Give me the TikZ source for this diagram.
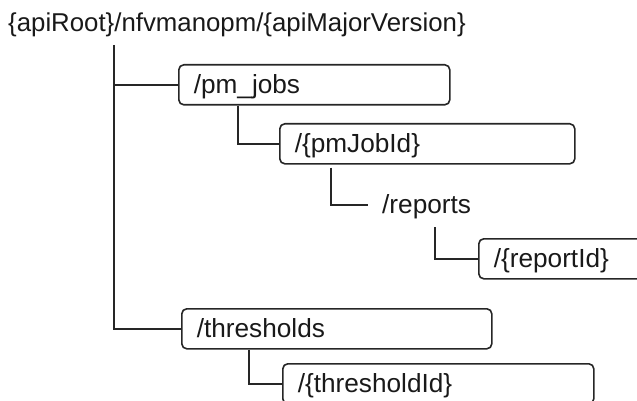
\documentclass[tikz,border=0pt]{standalone}
\usepackage{fontspec}
\setmainfont{Liberation Sans}
\begin{document}
\begin{tikzpicture}[x=1pt,y=-1pt,
  every node/.style={font=\fontsize{26.2}{30}\selectfont, text=black!90},
  res/.style={draw=black!85, line width=1.6pt, rounded corners=5pt, rectangle,
    anchor=north west, minimum height=40pt, inner ysep=0pt, inner xsep=15pt,
    align=left, text height=20pt, text depth=3pt},
  plain/.style={anchor=west, inner xsep=14pt, inner ysep=0pt, text height=20pt, text depth=3pt},
  link/.style={draw=black!85, line width=1.6pt}]
\clip (0,0) rectangle (637,401);
\node[anchor=base west, inner sep=0pt, font=\fontsize{25.8}{30}\selectfont] (root) at (8,32) {\{apiRoot\}/nfvmanopm/\{apiMajorVersion\}};
\coordinate (top) at (114,45);
\node[res, text width=241pt] (pmjobs) at (178,64) {/pm\_jobs};
\node[res, text width=265pt] (pmjobid) at (279,123) {/\{pmJobId\}};
\node[plain] (reports) at (368,205) {/reports};
\coordinate (rep) at (435,227);
\node[res, text width=170pt] (reportid) at (478,238) {/\{reportId\}};
\node[res, text width=280pt] (thresholds) at (181,308) {/thresholds};
\node[res, text width=281pt] (thresholdid) at (282,363) {/\{thresholdId\}};
\draw[link] (top) -- (top |- thresholds.west) -- (thresholds.west);
\draw[link] (top |- pmjobs.west) -- (pmjobs.west);
\draw[link] ([xshift=60pt]pmjobs.south west) |- (pmjobid.west);
\draw[link] ([xshift=52pt,yshift=-3pt]pmjobid.south west) |- (reports.west);
\draw[link] (rep) |- (reportid.west);
\draw[link] ([xshift=68pt]thresholds.south west) |- (thresholdid.west);
\end{tikzpicture}
\end{document}
